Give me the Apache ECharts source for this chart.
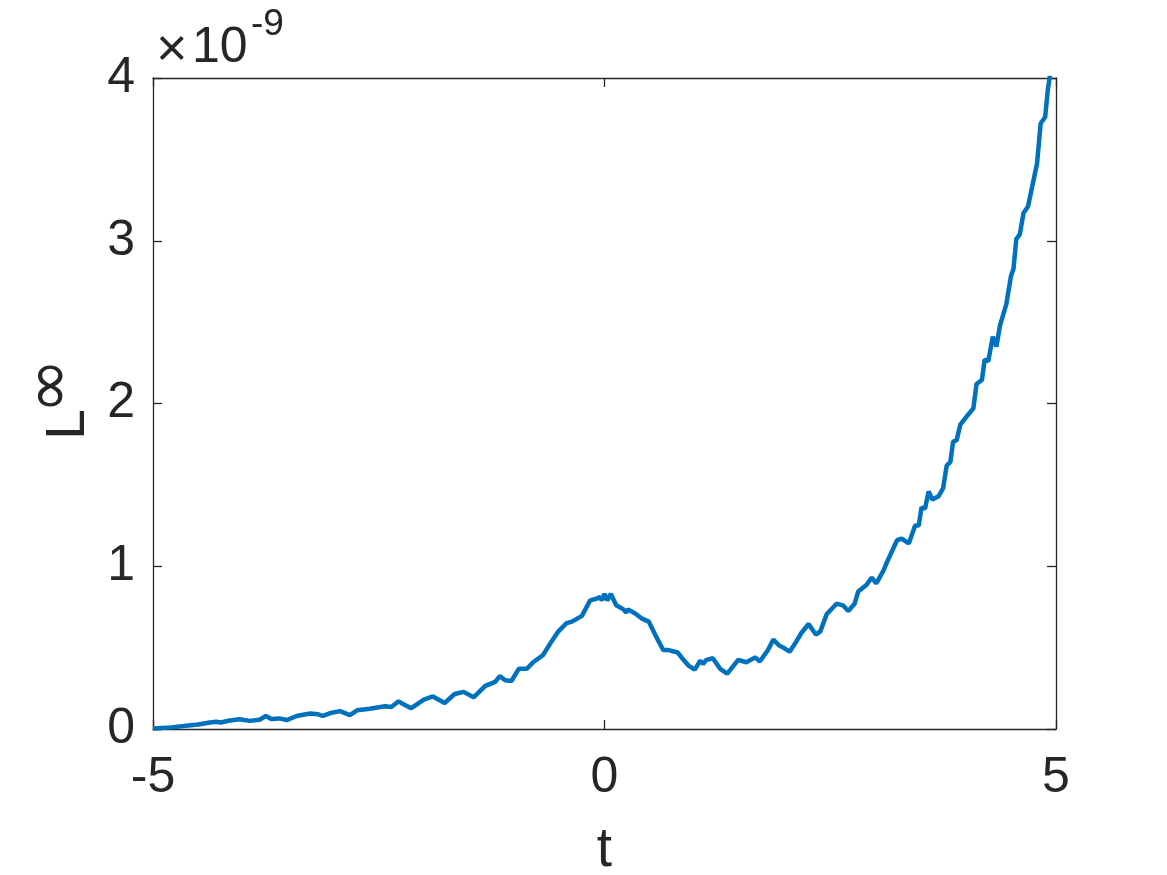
<!DOCTYPE html>
<html>
<head>
<meta charset="utf-8">
<script src="https://cdn.jsdelivr.net/npm/echarts@6/dist/echarts.min.js"></script>
<style>
html,body{margin:0;padding:0;background:#fff;}
#chart{width:1167px;height:875px;}
</style>
</head>
<body>
<div id="chart"></div>
<script>
// t values (x axis)
var tValues = [
-5.00,-4.80,-4.66,-4.50,-4.37,-4.30,-4.25,-4.15,-4.04,-3.93,-3.82,-3.75,-3.69,-3.60,-3.52,-3.41,-3.26,-3.17,-3.12,-3.02,
-2.93,-2.82,-2.74,-2.60,-2.43,-2.36,-2.28,-2.22,-2.14,-2.00,-1.90,-1.77,-1.66,-1.56,-1.45,-1.32,-1.21,-1.16,-1.10,-1.03,
-0.95,-0.86,-0.79,-0.68,-0.59,-0.51,-0.42,-0.36,-0.25,-0.16,-0.09,-0.05,-0.03,0.00,0.03,0.07,0.13,0.21,0.24,0.26,
0.34,0.41,0.49,0.56,0.65,0.71,0.81,0.86,0.93,1.00,1.06,1.09,1.13,1.20,1.28,1.36,1.48,1.57,1.67,1.72,
1.81,1.87,1.93,1.98,2.05,2.11,2.18,2.26,2.34,2.39,2.46,2.57,2.64,2.70,2.77,2.81,2.90,2.96,3.01,3.09,
3.14,3.24,3.29,3.37,3.44,3.48,3.51,3.55,3.59,3.63,3.70,3.75,3.79,3.83,3.86,3.90,3.94,4.01,4.085,4.12,
4.18,4.21,4.25,4.30,4.34,4.38,4.45,4.50,4.53,4.56,4.60,4.64,4.69,4.79,4.83,4.88,4.91,4.95,5.00
];
// L-infinity error values, in units of 1e-9
var lValues = [
0.003,0.010,0.018,0.028,0.040,0.045,0.040,0.052,0.060,0.050,0.057,0.080,0.062,0.065,0.055,0.080,0.095,0.090,0.080,0.100,
0.110,0.085,0.115,0.125,0.140,0.135,0.170,0.150,0.128,0.180,0.200,0.160,0.215,0.228,0.195,0.265,0.290,0.325,0.300,0.295,
0.370,0.370,0.410,0.455,0.535,0.600,0.650,0.660,0.695,0.790,0.800,0.810,0.790,0.830,0.790,0.830,0.760,0.735,0.715,0.735,
0.710,0.680,0.660,0.580,0.485,0.485,0.470,0.435,0.390,0.365,0.420,0.400,0.425,0.435,0.370,0.340,0.425,0.410,0.440,0.415,
0.485,0.550,0.515,0.500,0.475,0.525,0.590,0.645,0.580,0.600,0.705,0.770,0.760,0.725,0.770,0.845,0.885,0.930,0.895,0.975,
1.040,1.160,1.170,1.140,1.250,1.250,1.360,1.355,1.460,1.410,1.430,1.480,1.620,1.640,1.765,1.775,1.870,1.920,1.970,2.120,
2.145,2.270,2.260,2.410,2.350,2.480,2.610,2.780,2.830,3.010,3.040,3.170,3.210,3.475,3.720,3.760,3.930,4.080,4.300
];
var xMin = -5, xMax = 5, xStep = 5;
var yMin = 0, yMax = 4, yStep = 1;
var xName = 't';
var yName = 'L';
var ySup = '∞';
var expTimes = '×';
var expBase = '10';
var expPow = '-9';

var data = tValues.map(function (t, i) { return [t, lValues[i]]; });
var FONT = '"Liberation Sans", Arial, Helvetica, sans-serif';
var INK = '#262626';

var chart = echarts.init(document.getElementById('chart'), null, {renderer: 'canvas'});
var axisLineStyle = {color: INK, width: 1.3};
chart.setOption({
  animation: false,
  backgroundColor: '#ffffff',
  grid: {left: 153, right: 111, top: 78, bottom: 146, containLabel: false, outerBoundsMode: 'none'},
  xAxis: [{
    type: 'value', min: xMin, max: xMax, interval: xStep, position: 'bottom',
    axisLine: {show: true, onZero: false, lineStyle: axisLineStyle},
    axisTick: {show: true, inside: true, length: 9, lineStyle: axisLineStyle},
    axisLabel: {color: INK, fontSize: 50, fontFamily: FONT, margin: 24},
    splitLine: {show: false},
    name: xName, nameLocation: 'middle', nameGap: 94,
    nameTextStyle: {color: INK, fontSize: 55, fontFamily: FONT}
  }, {
    type: 'value', min: xMin, max: xMax, interval: xStep, position: 'top',
    axisLine: {show: true, onZero: false, lineStyle: axisLineStyle},
    axisTick: {show: true, inside: true, length: 9, lineStyle: axisLineStyle},
    axisLabel: {show: false}, splitLine: {show: false}
  }],
  yAxis: [{
    type: 'value', min: yMin, max: yMax, interval: yStep, position: 'left',
    axisLine: {show: true, onZero: false, lineStyle: axisLineStyle},
    axisTick: {show: true, inside: true, length: 9, lineStyle: axisLineStyle},
    axisLabel: {color: INK, fontSize: 50, fontFamily: FONT, margin: 18},
    splitLine: {show: false},
    name: yName, nameLocation: 'middle', nameRotate: 90, nameGap: 54,
    nameTextStyle: {color: INK, fontSize: 55, fontFamily: FONT, padding: [0, 42, 0, 0]}
  }, {
    type: 'value', min: yMin, max: yMax, interval: yStep, position: 'right',
    axisLine: {show: true, onZero: false, lineStyle: axisLineStyle},
    axisTick: {show: true, inside: true, length: 9, lineStyle: axisLineStyle},
    axisLabel: {show: false}, splitLine: {show: false}
  }],
  graphic: [{
    type: 'text', x: 53, y: 386, rotation: Math.PI / 2,
    style: {text: ySup, fontSize: 66, fontFamily: '"DejaVu Sans", sans-serif', fill: INK,
            align: 'center', verticalAlign: 'middle'}
  }, {
    type: 'text', x: 156, y: 51,
    style: {text: expTimes, fontSize: 54, fontFamily: FONT, fill: INK, verticalAlign: 'middle', align: 'left'}
  }, {
    type: 'text', x: 192, y: 48,
    style: {text: expBase, fontSize: 50, fontFamily: FONT, fill: INK, verticalAlign: 'middle', align: 'left'}
  }, {
    type: 'text', x: 251, y: 25,
    style: {text: expPow, fontSize: 37, fontFamily: FONT, fill: INK, verticalAlign: 'middle', align: 'left'}
  }],
  series: [{
    type: 'line', xAxisIndex: 0, yAxisIndex: 0, data: data,
    showSymbol: false, smooth: false, clip: true,
    lineStyle: {color: '#0072BD', width: 4.5},
    itemStyle: {color: '#0072BD'}
  }]
});
</script>
</body>
</html>
